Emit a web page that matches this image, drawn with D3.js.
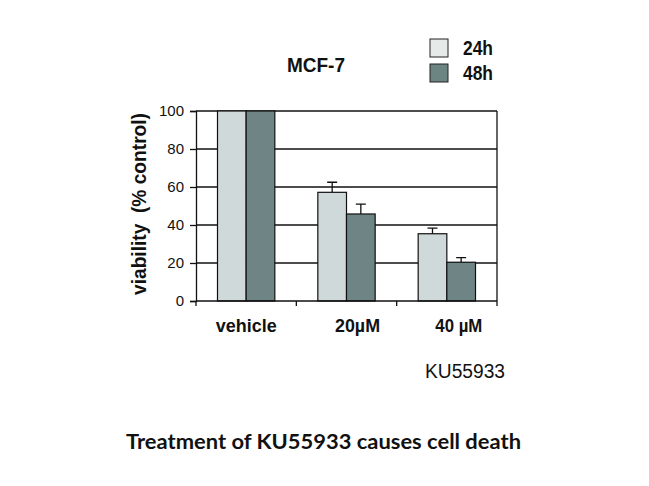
<!DOCTYPE html>
<html>
<head>
  <meta charset="utf-8">
  <title>MCF-7 viability</title>
  <style>
    body { margin: 0; background: white; }
    svg text { font-family: Arial, "Liberation Sans", sans-serif; fill: #111; }
  </style>
  <script src="https://d3js.org/d3.v7.min.js"></script>
</head>
<body>
  <div id="chart"></div>
  <script>
    // data
    const categories = ["vehicle", "20\u00b5M", "40 \u00b5M"];
    const seriesNames = ["24h", "48h"];
    const values24h = [100, 57.2, 35.4];
    const values48h = [100, 45.8, 20.4];
    const err24h = [0, 5.3, 3.0];
    const err48h = [0, 5.2, 2.4];
    const yTicks = [0, 20, 40, 60, 80, 100];

    const barColors = ["#cfd9d9", "#6f8585"];
    const legendColors = ["#e6eae8", "#6c8482"];

    const W = 649, H = 486;
    const svg = d3.select("#chart").append("svg")
      .attr("width", W).attr("height", H);

    const plot = {left: 196, right: 497, top: 111, bottom: 301};

    const x = d3.scaleBand()
      .domain(categories)
      .range([plot.left, plot.right])
      .paddingInner(0).paddingOuter(0);
    const xs = d3.scaleBand()
      .domain(seriesNames)
      .range([0, x.bandwidth()])
      .paddingInner(0)
      .paddingOuter(0.75);
    const y = d3.scaleLinear().domain([0, 100]).range([plot.bottom, plot.top]);

    // gridlines
    svg.append("g")
      .selectAll("line")
      .data(yTicks.filter(d => d > 0))
      .enter().append("line")
        .attr("x1", plot.left).attr("x2", plot.right)
        .attr("y1", d => y(d)).attr("y2", d => y(d))
        .attr("stroke", "#111").attr("stroke-width", 1.3);

    // right border
    svg.append("line")
      .attr("x1", plot.right).attr("x2", plot.right)
      .attr("y1", plot.top).attr("y2", plot.bottom)
      .attr("stroke", "#111").attr("stroke-width", 1.3);

    // bars
    const rows = categories.map((c, i) => ({
      cat: c,
      vals: [
        {s: seriesNames[0], v: values24h[i], e: err24h[i]},
        {s: seriesNames[1], v: values48h[i], e: err48h[i]}
      ]
    }));

    const groups = svg.append("g").selectAll("g")
      .data(rows)
      .enter().append("g")
        .attr("transform", d => `translate(${x(d.cat)},0)`);

    // error bars first (only the upper whisker shows above the bar)
    groups.selectAll(".err")
      .data(d => d.vals.filter(v => v.e > 0))
      .enter().append("path")
        .attr("class", "err")
        .attr("fill", "none")
        .attr("stroke", "#111")
        .attr("stroke-width", 1.3)
        .attr("d", d => {
          const cx = xs(d.s) + xs.bandwidth() / 2;
          const top = y(d.v + d.e);
          return `M${cx},${y(d.v)}V${top}M${cx - 5},${top}H${cx + 5}`;
        });

    groups.selectAll("rect")
      .data(d => d.vals)
      .enter().append("rect")
        .attr("x", d => xs(d.s))
        .attr("y", d => y(d.v))
        .attr("width", xs.bandwidth())
        .attr("height", d => y(0) - y(d.v))
        .attr("fill", (d, i) => barColors[i])
        .attr("stroke", "#111")
        .attr("stroke-width", 1.2);

    // y axis
    const yAxis = svg.append("g")
      .attr("transform", `translate(${plot.left},0)`)
      .call(d3.axisLeft(y).tickValues(yTicks).tickSize(6).tickPadding(6));
    yAxis.select(".domain").attr("stroke", "#111").attr("stroke-width", 1.3);
    yAxis.selectAll(".tick line").attr("stroke", "#111").attr("stroke-width", 1.3);
    yAxis.selectAll("text").style("font-size", "15px").attr("fill", "#111");

    // x axis
    const xAxis = svg.append("g")
      .attr("transform", `translate(0,${plot.bottom})`);
    xAxis.append("line")
      .attr("x1", plot.left).attr("x2", plot.right)
      .attr("stroke", "#111").attr("stroke-width", 1.3);
    xAxis.selectAll(".xtick")
      .data(categories.map(c => x(c)).concat([plot.right]))
      .enter().append("line")
        .attr("x1", d => d).attr("x2", d => d)
        .attr("y1", 0).attr("y2", 5)
        .attr("stroke", "#111").attr("stroke-width", 1.3);
    const labelShift = [0, 11, 12];
    const labelWidth = [61, 45, 47];
    xAxis.selectAll(".xlab")
      .data(categories)
      .enter().append("text")
        .attr("x", (d, i) => x(d) + x.bandwidth() / 2 + labelShift[i])
        .attr("y", 31)
        .attr("text-anchor", "middle")
        .style("font-size", "18px")
        .style("font-weight", "bold")
        .attr("textLength", (d, i) => labelWidth[i])
        .attr("lengthAdjust", "spacingAndGlyphs")
        .text(d => d);

    // axis title
    svg.append("text")
      .attr("transform", `translate(146,${(plot.top + plot.bottom) / 2 - 2}) rotate(-90)`)
      .attr("text-anchor", "middle")
      .style("font-size", "20px")
      .style("font-weight", "bold")
      .attr("xml:space", "preserve")
      .attr("textLength", 182)
      .attr("lengthAdjust", "spacingAndGlyphs")
      .text("viability  (% control)");

    // chart title
    svg.append("text")
      .attr("x", 316).attr("y", 72)
      .attr("text-anchor", "middle")
      .style("font-size", "20px")
      .style("font-weight", "bold")
      .attr("textLength", 58)
      .attr("lengthAdjust", "spacingAndGlyphs")
      .text("MCF-7");

    // legend
    const legend = svg.append("g").selectAll("g")
      .data(seriesNames)
      .enter().append("g")
        .attr("transform", (d, i) => `translate(430,${39 + i * 25})`);
    legend.append("rect")
      .attr("width", 18).attr("height", 18)
      .attr("fill", (d, i) => legendColors[i])
      .attr("stroke", "#222").attr("stroke-width", 1);
    legend.append("text")
      .attr("x", 33).attr("y", 16)
      .style("font-size", "20px")
      .style("font-weight", "bold")
      .attr("textLength", 30)
      .attr("lengthAdjust", "spacingAndGlyphs")
      .text(d => d);

    // compound label
    svg.append("text")
      .attr("x", 465).attr("y", 378)
      .attr("text-anchor", "middle")
      .style("font-size", "20px")
      .attr("textLength", 80)
      .attr("lengthAdjust", "spacingAndGlyphs")
      .text("KU55933");

    // caption
    svg.append("text")
      .attr("x", 126).attr("y", 449)
      .style("font-family", "Lato, 'Open Sans', sans-serif")
      .style("font-size", "20px")
      .style("font-weight", "bold")
      .attr("textLength", 395)
      .attr("lengthAdjust", "spacingAndGlyphs")
      .text("Treatment of KU55933 causes cell death");
  </script>
</body>
</html>
